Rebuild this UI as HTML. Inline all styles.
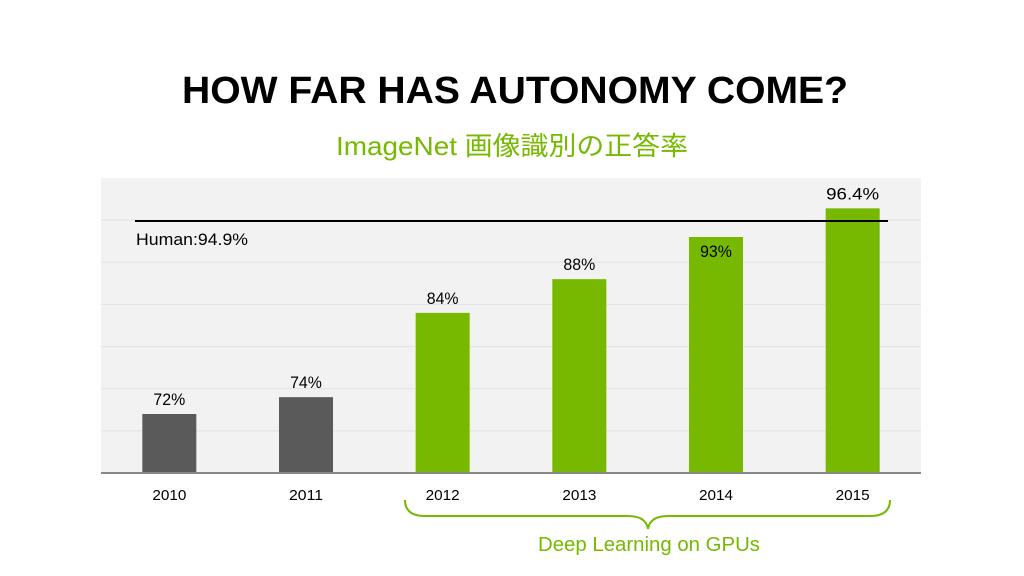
<!DOCTYPE html>
<html><head><meta charset="utf-8"><style>
body{margin:0;width:1024px;height:576px;background:#fff;overflow:hidden;font-family:"Liberation Sans","Noto Sans CJK JP",sans-serif}
</style></head><body>
<svg width="1024" height="576" style="position:absolute;left:0;top:0">
<text x="515" y="103" text-anchor="middle" font-size="38" font-weight="bold" fill="#000" textLength="666" lengthAdjust="spacingAndGlyphs">HOW FAR HAS AUTONOMY COME?</text>
<text x="512" y="155" text-anchor="middle" font-size="26" fill="#76b900" textLength="352" lengthAdjust="spacingAndGlyphs">ImageNet 画像識別の正答率</text>
<g id="plot"></g>
<path d="M405,500 Q405,516 425,516 L628,516 Q646,516 648,529 Q650,516 668,516 L870,516 Q890,516 890,500" fill="none" stroke="#76b900" stroke-width="2"/>
<text x="649" y="551" text-anchor="middle" font-size="20" fill="#76b900" textLength="222" lengthAdjust="spacingAndGlyphs">Deep Learning on GPUs</text>
</svg>
<script>
const categories=["2010","2011","2012","2013","2014","2015"];
const values=[72,74,84,88,93,96.4];
const valueLabels=["72%","74%","84%","88%","93%","96.4%"];
const gpuFlags=[0,0,1,1,1,1];
const humanValue=94.9;
const gridTicks=[70,75,80,85,90,95];
const L=101,R=921,T=178,B=473,vmin=65,vmax=100;
const y=v=>B-(v-vmin)/(vmax-vmin)*(B-T);
const band=(R-L)/categories.length;
const xc=i=>L+band*(i+0.5);
const ns="http://www.w3.org/2000/svg";
const g=document.getElementById('plot');
function mk(t,a){const e=document.createElementNS(ns,t);for(const k in a)e.setAttribute(k,a[k]);g.appendChild(e);return e;}
let e=mk('rect',{x:L,y:T,width:R-L,height:B-T,fill:'#f2f2f2'});


gridTicks.forEach(t=>{const l=mk('line',{x1:L,x2:R,y1:y(t),y2:y(t),stroke:'#e2e2e2','stroke-width':1});

});
categories.forEach((c,i)=>{
const w=54,v=values[i];
const r=mk('rect',{x:xc(i)-w/2,y:y(v),width:w,height:B-y(v),fill:gpuFlags[i]?'#76b900':'#5a5a5a'});


const inside=v>humanValue-3&&v<humanValue;
const t=mk('text',{x:xc(i),y:inside?y(v)+20:y(v)-9,'text-anchor':'middle','font-size':17,fill:'#000',textLength:valueLabels[i].length*10.6,lengthAdjust:'spacingAndGlyphs'});
t.textContent=valueLabels[i];


const xl=mk('text',{x:xc(i),y:B+27,'text-anchor':'middle','font-size':15,fill:'#000',textLength:34,lengthAdjust:'spacingAndGlyphs'});
xl.textContent=c;


});
e=mk('line',{x1:L,x2:R,y1:B,y2:B,stroke:'#888','stroke-width':2});


e=mk('line',{x1:135,x2:888,y1:y(humanValue),y2:y(humanValue),stroke:'#000','stroke-width':2});


e=mk('text',{x:136,y:y(humanValue)+24,'font-size':17,fill:'#000',textLength:112,lengthAdjust:'spacingAndGlyphs'});
e.textContent='Human:'+humanValue+'%';


</script>
</body></html>
